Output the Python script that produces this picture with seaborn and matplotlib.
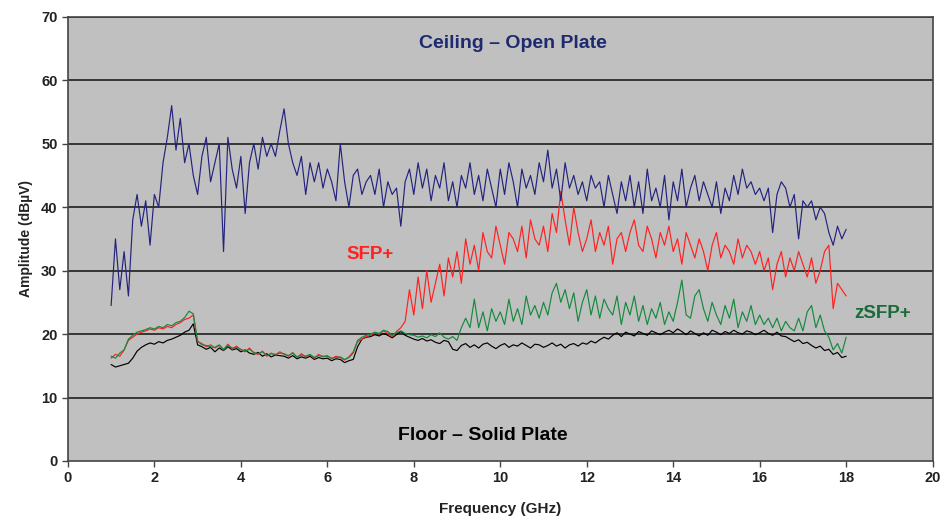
import numpy as np
import pandas as pd
import matplotlib
matplotlib.use("Agg")
import matplotlib.pyplot as plt
import seaborn as sns

# frequency grid (GHz), 0.1 GHz steps from 1.0 to 18.0
freq = np.round(np.arange(1.0, 18.05, 0.1), 1)

# Ceiling - open plate (navy)
ceiling = [
    24.5, 35, 27, 33, 26, 38, 42, 37, 41, 34,
    42, 40, 47, 51, 56, 49, 54, 47, 50, 45,
    42, 48, 51, 44, 47, 50, 33, 51, 46, 43,
    48, 39, 47, 50, 46, 51, 48, 50, 48, 52,
    55.5, 50, 47, 45, 48, 42, 47, 44, 47, 43,
    46, 44, 41, 50, 44, 40, 45, 46, 42, 44,
    45, 42, 46, 40, 44, 42, 43, 37, 44, 46,
    42, 47, 43, 46, 41, 45, 43, 47, 41, 44,
    40, 45, 43, 47, 42, 45, 41, 46, 43, 40,
    46, 42, 47, 44, 40, 46, 43, 45, 42, 47,
    44, 49, 43, 46, 41, 47, 43, 45, 42, 44,
    41, 45, 43, 44, 40, 45, 42, 39, 44, 41,
    45, 40, 44, 39, 46, 41, 43, 40, 45, 38,
    44, 41, 46, 40, 43, 45, 41, 44, 42, 40,
    44, 39, 43, 41, 45, 42, 46, 43, 44, 42,
    43, 41, 43, 36, 42, 44, 43, 40, 42, 35,
    41, 40, 41, 38, 40, 39, 36, 34, 37, 35,
    36.5,
]

# SFP+ (red)
sfp = [
    16.2, 16.8, 16.5, 17.5, 19, 19.5, 20, 20.3, 20.5, 20.8,
    20.6, 21, 20.8, 21.2, 21, 21.5, 21.8, 22.3, 22.5, 23,
    18.8, 18.5, 18, 18.3, 17.8, 18.2, 17.5, 18.4, 17.6, 18.1,
    17.5, 17.2, 17.8, 17, 16.8, 17.3, 16.5, 17, 16.7, 17.2,
    16.8, 16.5, 17.1, 16.3, 16.9, 16.4, 16.7, 16.2, 16.8, 16.4,
    16.6, 16.1, 16.5, 16.3, 15.9, 16.4, 17.2, 18.8, 19.2, 19.6,
    19.8, 20.2, 20, 20.5, 20.1, 19.6, 20.4, 21, 22, 27,
    23, 29, 24, 30, 25, 28, 31, 26, 32, 29,
    33, 28, 35, 31, 34, 30, 36, 33, 32, 37,
    34, 31, 36, 35, 33, 37, 32, 38, 35, 34,
    37, 33, 39, 36, 42.5, 38, 34, 40, 36, 33,
    35, 38, 33, 36, 34, 37, 31, 35, 36, 33,
    36, 38, 34, 33, 37, 35, 32, 36, 34, 37,
    33, 35, 31, 36, 34, 32, 35, 33, 30, 34,
    36, 32, 34, 33, 31, 35, 32, 34, 33, 31,
    33, 30, 32, 27, 31, 33, 29, 32, 30, 33,
    31, 29, 32, 28, 30, 33, 34, 24, 28, 27,
    26,
]

# zSFP+ (green)
zsfp = [
    16.5, 16.2, 17, 17.5, 19.2, 19.8, 20.3, 20.5, 20.7, 21,
    20.8, 21.2, 21, 21.5, 21.3, 21.8, 22, 22.6, 23.6, 23.2,
    18.9, 18.3, 18.2, 18, 17.9, 18.3, 17.6, 18.2, 17.8, 17.9,
    17.6, 17.3, 17.6, 17.1, 16.9, 17.2, 16.6, 16.9, 16.8, 17,
    16.9, 16.6, 17, 16.4, 16.7, 16.5, 16.8, 16.3, 16.6, 16.5,
    16.5, 16.2, 16.3, 16.4, 16, 16.3, 17, 19, 19.5, 19.8,
    20, 20.3, 20.1, 20.6, 20.4, 19.8, 20.2, 20.5, 20.1, 19.9,
    19.8, 19.5, 19.7, 19.4, 19.9, 19.6, 20.2, 19.5, 19.2, 19.6,
    19, 21, 22.5, 21, 25.5, 21, 23.5, 20.5, 24, 22,
    23.5, 21.5, 25.5, 22, 24, 21.5, 26, 23, 24.5, 22.5,
    25, 23, 26.5, 28, 25, 27, 24, 26.5, 22, 25,
    27, 23, 26, 22.5, 25.5, 24, 23, 26, 21.5, 25,
    23, 26, 22, 24.5, 21.5, 24, 22.5, 25, 21.5, 23.5,
    22, 25, 28.5, 23, 22.5, 26, 27, 24, 22, 25,
    23, 21.5, 24.5, 22.5, 25.5, 21, 23.5, 22, 24.5, 21.5,
    23, 21.5, 22.5, 21, 22.5, 20.5, 22, 21, 20.5, 22.5,
    20.5, 23.5, 24.5, 21, 23, 20.5, 19.5, 17.5, 18.5, 17,
    19.5,
]

# Floor - solid plate (black)
floor = [
    15.2, 14.8, 15, 15.2, 15.4, 16.2, 17.3, 17.9, 18.3, 18.6,
    18.4, 18.8, 18.6, 19, 19.2, 19.5, 19.8, 20.3, 20.6, 21.6,
    18.3, 18, 17.6, 17.9, 17.2, 17.8, 17.4, 18, 17.5, 17.7,
    17.2, 17.5, 17, 16.8, 17.1, 16.5, 16.9, 16.4, 16.7, 16.6,
    16.5, 16.2, 16.6, 16.1, 16.4, 16.2, 16.5, 16, 16.3, 16.1,
    16.2, 15.8, 16.1, 16, 15.5, 15.8, 16, 18, 19.2, 19.5,
    19.6, 19.9, 19.7, 20.1, 19.8, 19.4, 19.9, 20.4, 19.8, 19.5,
    19.2, 19, 19.3, 18.9, 19.1, 18.7, 18.5, 19, 18.8, 17.6,
    17.4, 18.2, 18.5, 17.9, 18.3, 17.8, 18.4, 18.6, 18.1, 17.7,
    18.2, 18.5, 17.9, 18.3, 18.1, 18.6, 18.2, 17.8, 18.4, 18.3,
    17.9, 18.2, 18.6, 18.1, 18.4, 17.8, 18.3, 18.5, 18.1, 18.6,
    18.4, 18.9, 18.6, 19.1, 19.5, 19.2, 19.8, 20.2, 19.6, 20.3,
    20, 19.7, 20.4, 20.1, 19.8, 20.5, 20.2, 19.9, 20.3, 20.6,
    20.2, 20.8, 20.4, 19.9, 20.5, 20.1, 19.7, 20.2, 19.8, 20.6,
    20.3, 19.9, 20.4, 20.1, 20.6, 20.2, 20, 20.5, 20.3, 19.9,
    20.2, 20.6, 20.1, 19.8, 20.3, 19.7, 19.6, 19.2, 18.8, 19.1,
    18.5, 18.7, 18.2, 17.8, 18.1, 17.4, 17.6, 16.8, 17.1, 16.3,
    16.5,
]

series = {
    "floor": (floor, "#000000"),
    "sfp": (sfp, "#ff2020"),
    "zsfp": (zsfp, "#138a3c"),
    "ceiling": (ceiling, "#23237e"),
}

sns.set_theme(style="white")
plt.rcParams["font.family"] = ["Liberation Sans", "DejaVu Sans"]

fig = plt.figure(figsize=(9.43, 5.25), dpi=100)
ax = fig.add_axes([0.072, 0.122, 0.917, 0.846])
ax.set_facecolor("#c0c0c0")

for name, (vals, color) in series.items():
    df = pd.DataFrame({"freq": freq, "amp": vals})
    sns.lineplot(data=df, x="freq", y="amp", color=color, linewidth=0.85,
                 estimator=None, ax=ax)

ax.set_xlim(0, 20)
ax.set_ylim(0, 70)
ax.set_xticks(range(0, 21, 2))
ax.set_yticks(range(0, 71, 10))
for y in range(10, 71, 10):
    ax.axhline(y, color="#111111", linewidth=1.1, zorder=0.5)

for s in ax.spines.values():
    s.set_color("#444444")
    s.set_linewidth(1.2)

ax.tick_params(axis="both", which="both", direction="out", length=4,
               width=1, color="#444444", labelsize=10.5, labelcolor="#222222",
               left=True, bottom=True)
for lab in ax.get_xticklabels() + ax.get_yticklabels():
    lab.set_fontweight("bold")

ax.set_xlabel("Frequency (GHz)", fontsize=11, fontweight="bold", color="#222222", labelpad=12)
ax.set_ylabel("Amplitude (dBµV)", fontsize=10, fontweight="bold", color="#222222", labelpad=6)

ax.text(10.3, 65.8, "Ceiling – Open Plate", color="#1f2a6e", fontsize=14,
        fontweight="bold", ha="center", va="center")
ax.text(9.6, 4.0, "Floor – Solid Plate", color="#000000", fontsize=14,
        fontweight="bold", ha="center", va="center")
ax.text(7.0, 32.5, "SFP+", color="#ff2020", fontsize=13.5,
        fontweight="bold", ha="center", va="center")
ax.text(18.85, 23.3, "zSFP+", color="#1b6b3a", fontsize=13.5,
        fontweight="bold", ha="center", va="center")

fig.savefig("out.png", dpi=100, facecolor="white")
